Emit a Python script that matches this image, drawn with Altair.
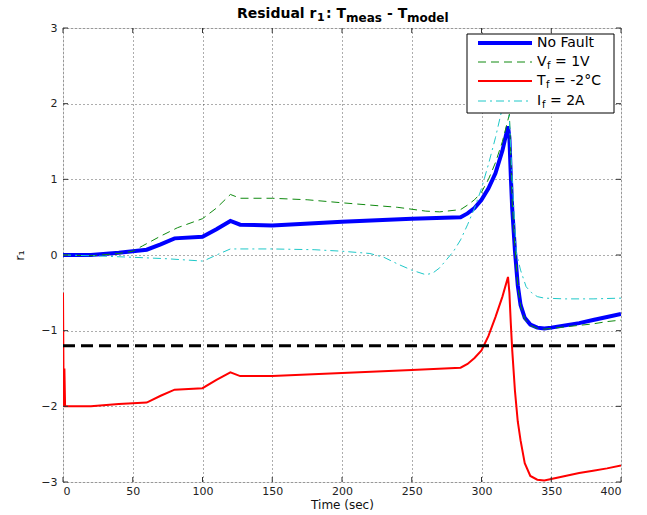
import altair as alt
import pandas as pd

# ---- data ----
t_nofault = [0, 20, 40, 50, 60, 70, 80, 100, 110, 120, 127, 150, 200, 250, 285, 290, 295, 300, 305, 310, 315, 319,
             320, 321, 322, 324, 326, 328, 331, 335, 340, 345, 350, 360, 370, 380, 390, 400]
v_nofault = [0.0, 0.0, 0.03, 0.05, 0.07, 0.14, 0.22, 0.24, 0.34, 0.45, 0.40, 0.39, 0.44, 0.48, 0.50, 0.55, 0.62, 0.73, 0.88, 1.08, 1.38, 1.70,
             1.55, 1.05, 0.62, 0.05, -0.40, -0.66, -0.83, -0.92, -0.96, -0.97, -0.96, -0.93, -0.90, -0.86, -0.82, -0.78]

t_vf = [0, 20, 40, 50, 57, 70, 82, 100, 110, 120, 127, 150, 175, 200, 240, 260, 270, 285, 290, 295, 300, 305, 310, 315, 320,
        321, 322, 324, 326, 328, 331, 335, 340, 345, 350, 360, 370, 380, 390, 400]
v_vf = [0.0, -0.01, 0.02, 0.05, 0.12, 0.25, 0.36, 0.48, 0.62, 0.80, 0.75, 0.75, 0.73, 0.69, 0.63, 0.58, 0.57, 0.60, 0.66, 0.73, 0.83, 1.00, 1.22, 1.50, 1.86,
        1.30, 0.70, 0.10, -0.40, -0.67, -0.85, -0.93, -0.97, -0.98, -0.97, -0.95, -0.93, -0.91, -0.88, -0.86]

t_tf = [0, 0.5, 1, 1.5, 20, 40, 50, 60, 70, 80, 100, 110, 120, 127, 150, 200, 250, 285, 290, 295, 300, 305, 310, 315, 319,
        320, 321, 322, 324, 326, 328, 331, 335, 340, 345, 350, 360, 370, 380, 390, 400]
v_tf = [-0.5, -2.0, -1.5, -2.0, -2.0, -1.97, -1.96, -1.95, -1.86, -1.78, -1.76, -1.65, -1.55, -1.60, -1.60, -1.56, -1.52, -1.49, -1.44, -1.36, -1.26, -1.07, -0.82, -0.55, -0.29,
        -0.50, -0.90, -1.25, -1.80, -2.20, -2.45, -2.75, -2.92, -2.97, -2.98, -2.96, -2.92, -2.88, -2.85, -2.82, -2.78]

t_if = [0, 20, 50, 75, 100, 103, 110, 120, 150, 180, 200, 220, 230, 240, 250, 260, 265, 270, 275, 280, 285, 290, 295, 300, 305, 310, 315, 318,
        320, 322, 325, 328, 332, 336, 340, 345, 360, 380, 400]
v_if = [0.0, -0.01, -0.03, -0.05, -0.08, -0.06, 0.0, 0.08, 0.08, 0.07, 0.05, 0.02, -0.03, -0.12, -0.20, -0.26, -0.24, -0.17, -0.06, 0.05, 0.20, 0.40, 0.62, 0.88, 1.20, 1.55, 1.95, 2.20,
        1.80, 1.00, 0.03, -0.20, -0.42, -0.50, -0.55, -0.57, -0.58, -0.58, -0.57]

threshold = -1.2
x_ticks = [0, 50, 100, 150, 200, 250, 300, 350, 400]
y_ticks = [-3, -2, -1, 0, 1, 2, 3]

W, H = 558, 454
FONT = "DejaVu Sans"

xs = alt.Scale(domain=[0, 400], nice=False, zero=False)
ys = alt.Scale(domain=[-3, 3], nice=False, zero=False)

x_axis = alt.Axis(values=x_ticks, title="Time (sec)", grid=True, ticks=False, domain=False,
                  labelFont=FONT, labelFontSize=11, labelColor="#222", labelPadding=3,
                  titleFont=FONT, titleFontSize=12, titleFontWeight="normal", titleColor="#111", titlePadding=3,
                  gridColor="#333", gridDash=[1, 3], gridWidth=1, gridOpacity=0.8)
y_axis = alt.Axis(values=y_ticks, title="r\u2081", grid=True, ticks=False, domain=False,
                  labelFont=FONT, labelFontSize=11, labelColor="#222", labelPadding=6,
                  titleFont=FONT, titleFontSize=13, titleFontWeight="normal", titleColor="#111", titlePadding=14,
                  gridColor="#333", gridDash=[1, 3], gridWidth=1, gridOpacity=0.8)

X = lambda: alt.X("t:Q", scale=xs, axis=x_axis)
Y = lambda: alt.Y("v:Q", scale=ys, axis=y_axis)


def line(t, v, color, width, dash=None):
    df = pd.DataFrame({"t": t, "v": v})
    kw = dict(color=color, strokeWidth=width, clip=True)
    if dash:
        kw["strokeDash"] = dash
    return alt.Chart(df).mark_line(**kw).encode(x=X(), y=Y())


blue = line(t_nofault, v_nofault, "#0000ff", 4)
green = line(t_vf, v_vf, "#108a10", 1, [8, 5])
red = line(t_tf, v_tf, "#ff0000", 2)
cyan = line(t_if, v_if, "#1fc8c8", 1, [8, 4, 2, 4])
thr = alt.Chart(pd.DataFrame({"t": [0, 400], "v": [threshold, threshold]})).mark_line(
    color="#000", strokeWidth=3, strokeDash=[12, 6]).encode(x=X(), y=Y())

# inward ticks
xt = pd.DataFrame({"t": x_ticks})
yt = pd.DataFrame({"v": y_ticks})
tick_kw = dict(color="#333", strokeWidth=1)
xticks_b = alt.Chart(xt).mark_rule(**tick_kw).encode(x=X(), y=alt.value(H), y2=alt.value(H - 5))
xticks_t = alt.Chart(xt).mark_rule(**tick_kw).encode(x=X(), y=alt.value(0), y2=alt.value(5))
yticks_l = alt.Chart(yt).mark_rule(**tick_kw).encode(y=Y(), x=alt.value(0), x2=alt.value(5))
yticks_r = alt.Chart(yt).mark_rule(**tick_kw).encode(y=Y(), x=alt.value(W), x2=alt.value(W - 5))

one = pd.DataFrame({"a": [0]})

# legend box
LX0, LX1, LY0, LY1 = 404, 551, 6, 85
legend_box = alt.Chart(one).mark_rect(fill="white", stroke="#000", strokeWidth=1).encode(
    x=alt.value(LX0), x2=alt.value(LX1), y=alt.value(LY0), y2=alt.value(LY1))

rows_y = [15, 34, 53, 73]
legend_items = []
styles = [("#0000ff", 4, None), ("#108a10", 1, [8, 5]), ("#ff0000", 2, None), ("#1fc8c8", 1, [8, 4, 2, 4])]
for yy, (c, w, d) in zip(rows_y, styles):
    kw = dict(color=c, strokeWidth=w)
    if d:
        kw["strokeDash"] = d
    legend_items.append(alt.Chart(one).mark_rule(**kw).encode(
        x=alt.value(415), x2=alt.value(469), y=alt.value(yy)))


def txt(s, x, y, size=13, bold=False, align="left"):
    return alt.Chart(one).mark_text(text=s, font=FONT, fontSize=size, fontWeight="bold" if bold else "normal",
                                    align=align, baseline="middle", color="#000").encode(
        x=alt.value(x), y=alt.value(y))


legend_texts = [
    txt("No Fault", 474, rows_y[0], size=14),
    txt("V", 474, rows_y[1], size=14), txt("f", 484, rows_y[1] + 4, size=10), txt("= 1V", 492, rows_y[1], size=14),
    txt("T", 474, rows_y[2], size=14), txt("f", 483, rows_y[2] + 4, size=10), txt("= -2\u00b0C", 491, rows_y[2], size=14),
    txt("I", 474, rows_y[3], size=14), txt("f", 479, rows_y[3] + 4, size=10), txt("= 2A", 487, rows_y[3], size=14),
]

# title with subscripts
TY = -14
title_parts = [
    txt("Residual r", 174, TY, size=14, bold=True),
    txt("1", 254, TY + 4, size=11, bold=True),
    txt(": T", 263, TY, size=14, bold=True),
    txt("meas", 283, TY + 4, size=12, bold=True),
    txt("- T", 324, TY, size=14, bold=True),
    txt("model", 344, TY + 4, size=12, bold=True),
]

chart = alt.layer(
    blue, green, red, cyan, thr,
    xticks_b, xticks_t, yticks_l, yticks_r,
    legend_box, *legend_items, *legend_texts, *title_parts,
).properties(
    width=W, height=H,
    autosize=alt.AutoSizeParams(type="none"),
    padding={"left": 63, "top": 28, "right": 26, "bottom": 33},
).configure_view(stroke="#333", strokeWidth=1).configure(background="white")

chart.save("out.html", embed_options={"renderer": "svg", "actions": False})
